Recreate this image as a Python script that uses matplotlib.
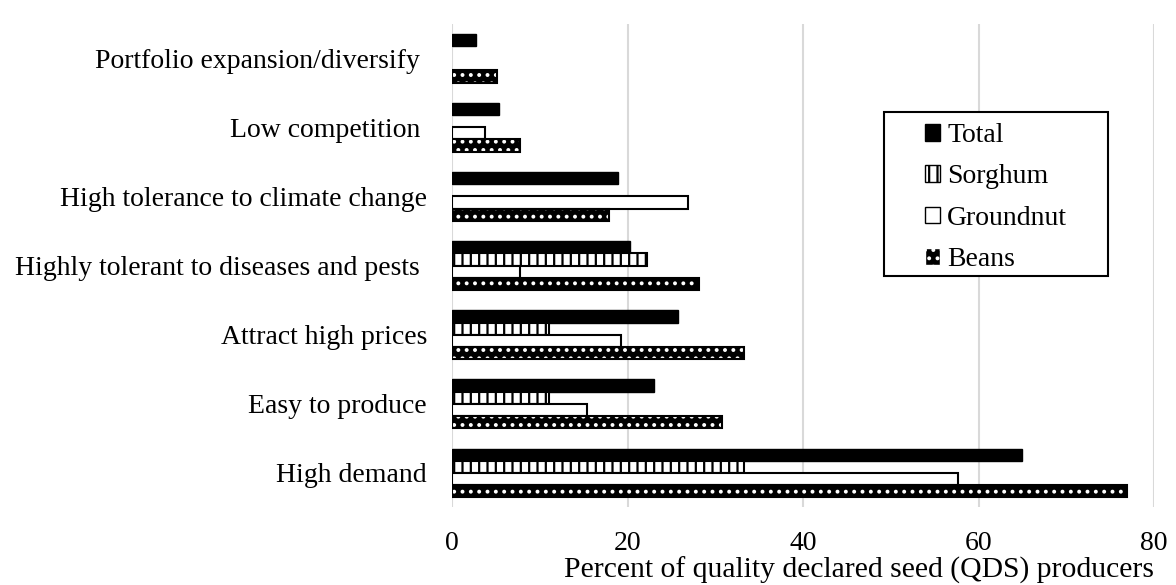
import numpy as np
import matplotlib
matplotlib.use("Agg")
import matplotlib.pyplot as plt
from matplotlib.patches import Patch, Rectangle

# categories from bottom to top
reasons = ["High demand", "Easy to produce", "Attract high prices",
           "Highly tolerant to diseases and pests ", "High tolerance to climate change",
           "Low competition ", "Portfolio expansion/diversify "]

total = [64.9, 23.0, 25.7, 20.3, 18.9, 5.4, 2.7]
sorghum = [33.3, 11.1, 11.1, 22.2, 0, 0, 0]
groundnut = [57.7, 15.4, 19.2, 7.7, 26.9, 3.8, 0]
beans = [76.9, 30.8, 33.3, 28.2, 17.9, 7.7, 5.1]

series_names = ["Total", "Sorghum", "Groundnut", "Beans"]

plt.rcParams['font.family'] = ['Liberation Serif', 'DejaVu Serif']
plt.rcParams['hatch.linewidth'] = 1.6
FS = 20

fig = plt.figure(figsize=(11.76, 5.85), dpi=100)
ax = fig.add_axes([0.3844, 0.1333, 0.5969, 0.8257])

y = np.arange(len(reasons))
h = 0.174


def nonzero(vals):
    vals = np.asarray(vals, dtype=float)
    keep = vals > 0
    return y[keep], vals[keep]


yy, vv = nonzero(total)
ax.barh(yy + 1.5 * h, vv, h, color="black", edgecolor="black", linewidth=1)
yy, vv = nonzero(sorghum)
ax.barh(yy + 0.5 * h, vv, h, color="white", edgecolor="black", hatch="||", linewidth=1.5)
yy, vv = nonzero(groundnut)
ax.barh(yy - 0.5 * h, vv, h, color="white", edgecolor="black", linewidth=1.5)
# beans: black with white speckle, then black outline on top
yy, vv = nonzero(beans)
ax.barh(yy - 1.5 * h, vv, h, color="black", edgecolor="white", hatch="..", linewidth=0)
ax.barh(yy - 1.5 * h, vv, h, fill=False, edgecolor="black", linewidth=1.5)

ax.set_xlim(0, 80)
ax.set_ylim(-0.5, len(reasons) - 0.5)
ax.set_xticks([0, 20, 40, 60, 80])
ax.set_yticks(y)
ax.set_yticklabels(reasons)
ax.tick_params(axis="both", length=0, labelsize=FS)
ax.tick_params(axis="y", pad=18)
ax.tick_params(axis="x", pad=17)
ax.xaxis.grid(True, color="#d9d9d9", linewidth=1.5)
ax.set_axisbelow(True)
for s in ax.spines.values():
    s.set_visible(False)

ax.set_xlabel("Percent of quality declared seed (QDS) producers", fontsize=21.3, labelpad=1)
ax.xaxis.label.set_x(0.58)

handles = [
    Patch(facecolor="black", edgecolor="black"),
    Patch(facecolor="white", edgecolor="black", hatch="||"),
    Patch(facecolor="white", edgecolor="black"),
    Patch(facecolor="black", edgecolor="white", hatch=".."),
]
leg = fig.legend(handles, series_names, loc="upper left", bbox_to_anchor=(0.7866, 0.7897),
                 bbox_transform=fig.transFigure, fontsize=FS, frameon=False,
                 handlelength=0.55, handleheight=0.55, handletextpad=0.25,
                 labelspacing=0.59, borderpad=0, borderaxespad=0)
fig.patches.append(Rectangle((0.7517, 0.5282), 0.1905, 0.2803, transform=fig.transFigure,
                             fill=True, facecolor="white", edgecolor="black", linewidth=1.5,
                             zorder=0))

fig.savefig("out.png", dpi=100, facecolor="white")
